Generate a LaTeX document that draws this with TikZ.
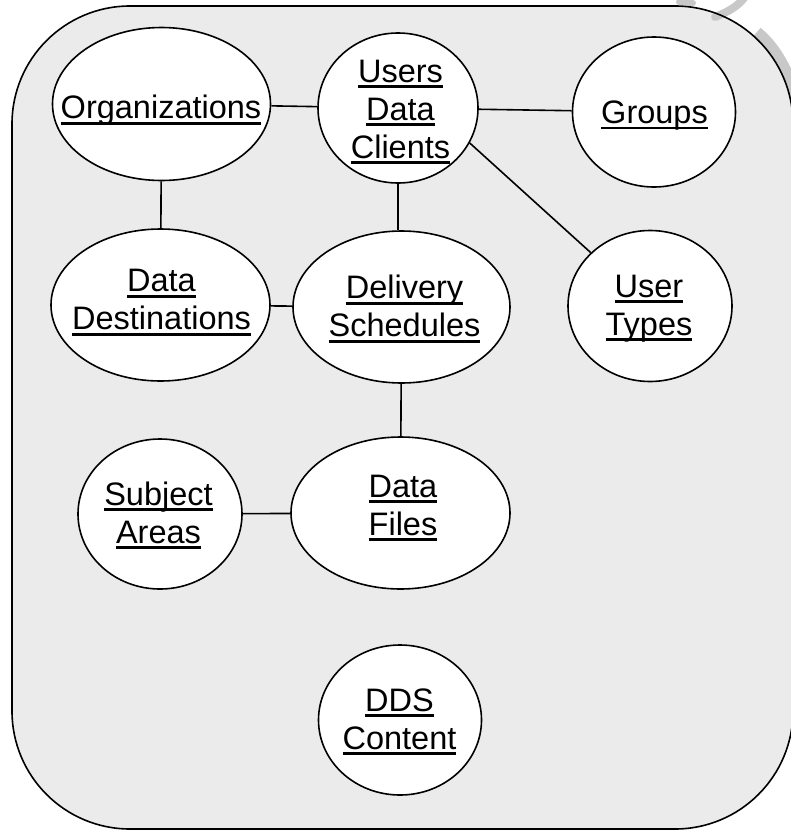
\documentclass[tikz,border=0pt]{standalone}
\usepackage{fontspec}
\setmainfont{Liberation Sans}
\usetikzlibrary{shapes.geometric}

\definecolor{panel}{RGB}{235,235,235}
\definecolor{stamp}{RGB}{200,200,200}

% underlined word: rule at a fixed distance below the baseline
\newsavebox\uwordbox
\newcommand\uword[1]{\sbox\uwordbox{#1}\rlap{\rule[-6pt]{\wd\uwordbox}{2.8pt}}\usebox\uwordbox}
% stacked, centred lines whose reference point is the first baseline
\newcommand\lbl[1]{\begin{tabular}[t]{@{}c@{}}#1\end{tabular}}

\tikzset{
  entity/.style={ellipse, draw, fill=white, line width=1.6pt, inner sep=0pt},
  lab/.style={anchor=base, inner sep=0pt, font=\fontsize{32.5}{38}\selectfont},
  link/.style={line width=1.6pt},
  frame/.style={draw=black, line width=1.6pt, rounded corners=118pt},
}

\begin{document}
\begin{tikzpicture}[x=1pt, y=-1pt]
\useasboundingbox (0,0) rectangle (791,830);
\clip (0,0) rectangle (791,830);

% panel
\fill[panel, rounded corners=118pt] (12,6) rectangle (793,829);

% faint stamp marks near the upper right corner
\draw[stamp, line width=6pt, line cap=round] (679,2) -- (693,3);
\draw[stamp, line width=8pt, line cap=round] (715,17) .. controls (728,12) and (738,6) .. (744,-2);
\draw[stamp, line width=11pt] (757,32) .. controls (774,46) and (786,66) .. (796,96);

% panel outline
\draw[frame] (12,6) rectangle (793,829);

% entities
\node[entity, minimum width=218pt, minimum height=153pt] (org) at (161.5,104) {};
\node[entity, minimum width=160pt, minimum height=150pt] (udc) at (398,108) {};
\node[entity, minimum width=163pt, minimum height=150pt] (grp) at (654,112) {};
\node[entity, minimum width=219pt, minimum height=152pt] (dst) at (160.5,305) {};
\node[entity, minimum width=217pt, minimum height=152pt] (dlv) at (401.5,307) {};
\node[entity, minimum width=164pt, minimum height=151pt] (utp) at (650,306) {};
\node[entity, minimum width=164pt, minimum height=150pt] (sub) at (160,514) {};
\node[entity, minimum width=219pt, minimum height=152pt] (fil) at (400.5,513) {};
\node[entity, minimum width=163pt, minimum height=150pt] (dds) at (400,720) {};

% relationships
\draw[link] (org) -- (udc);
\draw[link] (udc) -- (grp);
\draw[link] (org) -- (dst);
\draw[link] (udc.south) -- (udc.south |- dlv.north);
\draw[link] (udc.-26) -- (utp.138.5);
\draw[link] (dst) -- (dlv);
\draw[link] (dlv) -- (fil);
\draw[link] (sub) -- (fil);

% labels
\node[lab] (torg) at (161,118.5) {\lbl{\uword{Organizations}}};
\node[lab] (tudc) at (400.5,82) {\lbl{\uword{Users}\\\uword{Data}\\\uword{Clients}}};
\node[lab] (tgrp) at (654.5,123.3) {\lbl{\uword{Groups}}};
\node[lab] (tdst) at (161.5,291.5) {\lbl{\uword{Data}\\\uword{Destinations}}};
\node[lab] (tdlv) at (404.5,298.5) {\lbl{\uword{Delivery}\\\uword{Schedules}}};
\node[lab] (tutp) at (649,297) {\lbl{\uword{User}\\\uword{Types}}};
\node[lab] (tsub) at (158.5,505) {\lbl{\uword{Subject}\\\uword{Areas}}};
\node[lab] (tfil) at (403,497) {\lbl{\uword{Data}\\\uword{Files}}};
\node[lab] (tdds) at (399.5,711) {\lbl{\uword{DDS}\\\uword{Content}}};
\end{tikzpicture}
\end{document}
